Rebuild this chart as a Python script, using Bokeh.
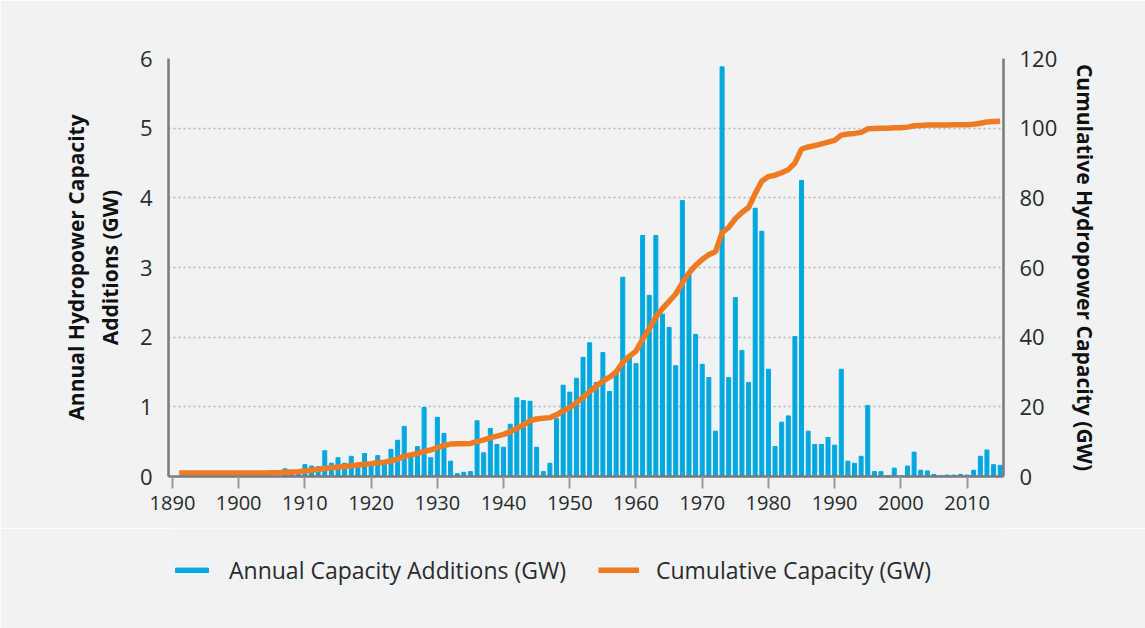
from bokeh.plotting import figure
from bokeh.layouts import column
from bokeh.models import Range1d, LinearAxis, Legend, LegendItem, FixedTicker, ColumnDataSource
from bokeh.embed import file_html
from bokeh.resources import INLINE

years = list(range(1891, 2016))

annual_gw = [
    # 1891-1906
    0, 0, 0, 0, 0, 0, 0, 0, 0, 0, 0, 0, 0, 0, 0, 0,
    # 1907-1919
    0.11, 0.05, 0.05, 0.17, 0.15, 0.14, 0.37, 0.19, 0.27, 0.19, 0.29, 0.16, 0.33,
    # 1920-1929
    0.15, 0.30, 0.20, 0.39, 0.52, 0.72, 0.28, 0.43, 0.99, 0.27,
    # 1930-1939
    0.85, 0.62, 0.22, 0.04, 0.06, 0.07, 0.80, 0.34, 0.69, 0.46,
    # 1940-1949
    0.42, 0.75, 1.13, 1.09, 1.08, 0.42, 0.07, 0.19, 0.83, 1.31,
    # 1950-1959
    1.21, 1.41, 1.71, 1.92, 1.35, 1.78, 1.22, 1.52, 2.86, 1.75,
    # 1960-1969
    1.62, 3.46, 2.60, 3.46, 2.33, 2.14, 1.59, 3.96, 2.90, 2.04,
    # 1970-1979
    1.61, 1.42, 0.65, 5.88, 1.42, 2.57, 1.81, 1.35, 3.85, 3.52,
    # 1980-1989
    1.54, 0.43, 0.78, 0.87, 2.01, 4.25, 0.65, 0.46, 0.46, 0.56,
    # 1990-1999
    0.45, 1.54, 0.22, 0.19, 0.29, 1.02, 0.07, 0.07, 0.01, 0.12,
    # 2000-2009
    0.01, 0.15, 0.35, 0.09, 0.08, 0.03, 0.01, 0.02, 0.02, 0.03,
    # 2010-2015
    0.02, 0.09, 0.29, 0.38, 0.17, 0.16,
]

cumulative_gw = [
    # 1891-1906
    1.0, 1.0, 1.0, 1.0, 1.0, 1.0, 1.0, 1.0, 1.0, 1.0, 1.0, 1.0, 1.0, 1.0, 1.05, 1.1,
    # 1907-1919
    1.2, 1.3, 1.4, 1.6, 1.8, 2.0, 2.3, 2.5, 2.7, 2.9, 3.1, 3.3, 3.5,
    # 1920-1929
    3.7, 4.0, 4.1, 4.5, 5.0, 5.8, 6.2, 6.6, 7.2, 7.6,
    # 1930-1939
    8.3, 8.9, 9.3, 9.4, 9.4, 9.5, 10.0, 10.5, 11.1, 11.6,
    # 1940-1949
    12.1, 12.8, 13.8, 14.8, 16.0, 16.5, 16.7, 16.9, 17.7, 18.9,
    # 1950-1959
    19.8, 21.2, 22.7, 24.4, 25.9, 27.4, 28.5, 30.0, 32.8, 34.5,
    # 1960-1969
    36.0, 39.4, 42.4, 45.8, 48.2, 50.3, 52.4, 55.6, 58.4, 60.6,
    # 1970-1979
    62.3, 63.7, 64.5, 70.0, 71.5, 74.0, 75.8, 77.2, 81.2, 84.8,
    # 1980-1989
    86.1, 86.5, 87.2, 88.1, 90.0, 94.0, 94.6, 95.0, 95.5, 96.0,
    # 1990-1999
    96.5, 98.0, 98.3, 98.5, 98.8, 99.8, 99.9, 100.0, 100.0, 100.1,
    # 2000-2009
    100.1, 100.3, 100.7, 100.8, 100.9, 100.9, 100.9, 100.9, 101.0, 101.0,
    # 2010-2015
    101.0, 101.1, 101.4, 101.8, 101.9, 102.0,
]

x_ticks = [1890, 1900, 1910, 1920, 1930, 1940, 1950, 1960, 1970, 1980, 1990, 2000, 2010]
left_ticks = [0, 1, 2, 3, 4, 5, 6]
right_ticks = [0, 20, 40, 60, 80, 100, 120]

BG = "#f1f2f4"
BLUE = "#00a8e0"
ORANGE = "#f07a22"
AXIS = "#7a7a7a"
FONT = "Open Sans"
TXT = "#2b2b2b"

p = figure(frame_width=835, frame_height=418, output_backend="svg", toolbar_location=None,
           x_range=Range1d(1889.4, 2015.5), y_range=Range1d(0, 6),
           min_border_left=168, min_border_right=142, min_border_top=58, min_border_bottom=52)
p.background_fill_color = BG
p.border_fill_color = BG
p.outline_line_color = None
p.extra_y_ranges = {"cum": Range1d(0, 120)}

src = ColumnDataSource(dict(year=years, annual=annual_gw, cum=cumulative_gw))
p.vbar(x="year", top="annual", width=0.6, source=src, color=BLUE)
p.line(x="year", y="cum", source=src, y_range_name="cum", color=ORANGE, line_width=5.5)

p.xgrid.visible = False
p.ygrid.ticker = FixedTicker(ticks=left_ticks[1:])
p.ygrid.grid_line_color = "#b5b5b5"
p.ygrid.grid_line_dash = "2 3"
p.ygrid.grid_line_width = 1.5

xa = p.xaxis[0]
xa.ticker = FixedTicker(ticks=x_ticks)
xa.axis_line_color = AXIS
xa.axis_line_width = 2.5
xa.major_tick_line_color = "#999999"
xa.major_tick_line_width = 2
xa.major_tick_out = 12
xa.major_tick_in = 0
xa.minor_tick_line_color = None
xa.major_label_text_font = FONT
xa.major_label_text_font_size = "20px"
xa.major_label_text_color = TXT
xa.major_label_standoff = 7

ya = p.yaxis[0]
ya.ticker = FixedTicker(ticks=left_ticks)
ya.axis_line_color = AXIS
ya.axis_line_width = 2.5
ya.major_tick_line_color = None
ya.minor_tick_line_color = None
ya.major_label_text_font = FONT
ya.major_label_text_font_size = "22px"
ya.major_label_text_color = TXT
ya.major_label_standoff = 10
ya.axis_label = "Annual Hydropower Capacity\nAdditions (GW)"
ya.axis_label_text_font = FONT
ya.axis_label_text_font_size = "21px"
ya.axis_label_text_font_style = "bold"
ya.axis_label_text_color = "#111111"
ya.axis_label_standoff = 13

ra = LinearAxis(y_range_name="cum", ticker=FixedTicker(ticks=right_ticks))
ra.axis_line_color = AXIS
ra.axis_line_width = 2.5
ra.major_tick_line_color = None
ra.minor_tick_line_color = None
ra.major_label_text_font = FONT
ra.major_label_text_font_size = "22px"
ra.major_label_text_color = TXT
ra.major_label_standoff = 10
ra.axis_label = "Cumulative Hydropower Capacity (GW)"
ra.axis_label_text_font = FONT
ra.axis_label_text_font_size = "21px"
ra.axis_label_text_font_style = "bold"
ra.axis_label_text_color = "#111111"
ra.axis_label_standoff = 11
p.add_layout(ra, "right")

# legend strip below the chart (its frame is aligned with the chart frame by the column layout);
# its renderers use the same data but are hidden, so only their legend entries are drawn
lf = figure(width=1145, height=100, output_backend="svg", toolbar_location=None,
            x_range=Range1d(1889.4, 2015.5), y_range=Range1d(0, 6),
            x_axis_location=None, y_axis_location=None, min_border=0)
lf.background_fill_color = BG
lf.border_fill_color = BG
lf.outline_line_color = None
lf.grid.visible = False
leg_bar = lf.vbar(x="year", top="annual", width=0.6, source=src, color=BLUE, visible=False)
leg_line = lf.line(x="year", y="cum", source=src, color=ORANGE, line_width=6, visible=False)

legend = Legend(items=[LegendItem(label="Annual Capacity Additions (GW)", renderers=[leg_bar]),
                       LegendItem(label="Cumulative Capacity (GW)", renderers=[leg_line])],
                orientation="horizontal", location=(3, 42))
legend.background_fill_alpha = 0
legend.border_line_color = None
legend.inactive_fill_alpha = 0
legend.glyph_width = 41
legend.glyph_height = 6
legend.label_standoff = 17
legend.spacing = 32
legend.padding = 0
legend.margin = 0
legend.label_text_font = FONT
legend.label_text_font_size = "23px"
legend.label_text_color = TXT
legend.label_height = 26
lf.add_layout(legend, "center")

open("out.html", "w").write(file_html(column(p, lf), INLINE))
